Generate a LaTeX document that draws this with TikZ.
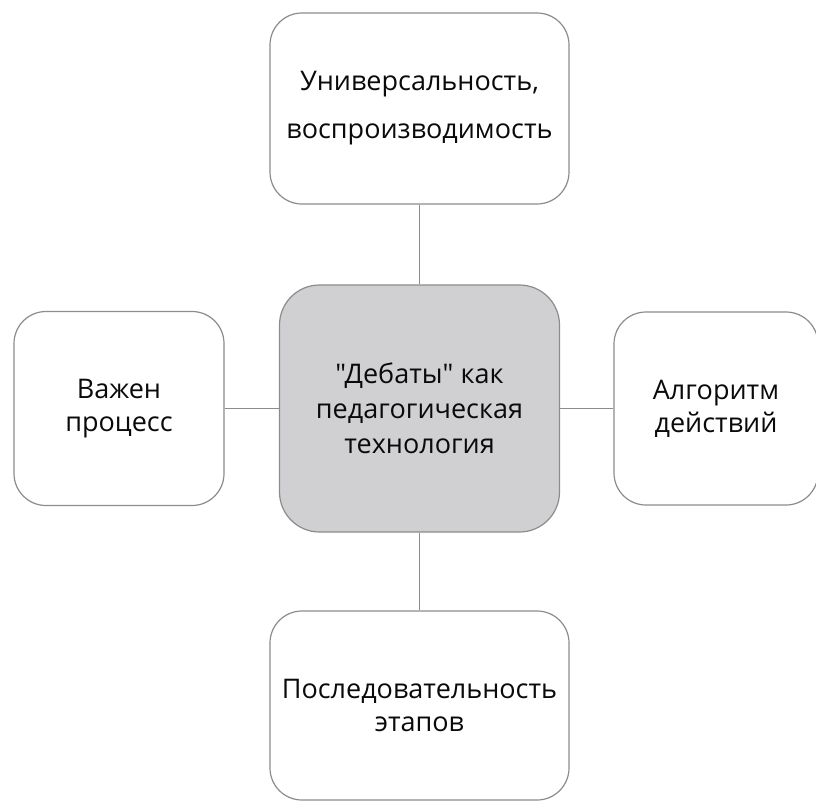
\documentclass[tikz,border=0pt]{standalone}
\usepackage{fontspec}
\setmainfont{Open Sans}[Ligatures=TeXOff]
\definecolor{bordergray}{RGB}{140,140,140}
\definecolor{centerfill}{RGB}{208,207,209}
\definecolor{textcol}{RGB}{10,10,10}
\begin{document}
\begin{tikzpicture}[x=1pt,y=-1pt,
  box/.style={draw=bordergray, line width=1.2pt, rounded corners=32pt, fill=white,
    align=center, inner sep=0pt, text=textcol, font=\fontsize{27}{33}\selectfont},
  hub/.style={box, fill=centerfill, rounded corners=40pt, font=\fontsize{27}{35}\selectfont},
  conn/.style={draw=bordergray, line width=1.2pt}]
\useasboundingbox (0,0) rectangle (816,803);
\node[box, minimum width=299pt, minimum height=191pt, font=\fontsize{27}{48}\selectfont] (top) at (419.5,108.5) {Универсальность,\\воспроизводимость};
\node[hub, minimum width=280pt, minimum height=247pt] (center) at (419.5,408.5) {"Дебаты" как\\педагогическая\\технология};
\node[box, minimum width=210pt, minimum height=194pt] (left) at (119,408.5) {Важен\\процесс};
\node[box, minimum width=204pt, minimum height=193pt] (right) at (716,408.5) {Алгоритм\\действий};
\node[box, minimum width=299pt, minimum height=189pt] (bottom) at (419.5,705.5) {Последовательность\\этапов};
\draw[conn] (top) -- (center);
\draw[conn] (center) -- (bottom);
\draw[conn] (left) -- (center);
\draw[conn] (center) -- (right);
\end{tikzpicture}
\end{document}
